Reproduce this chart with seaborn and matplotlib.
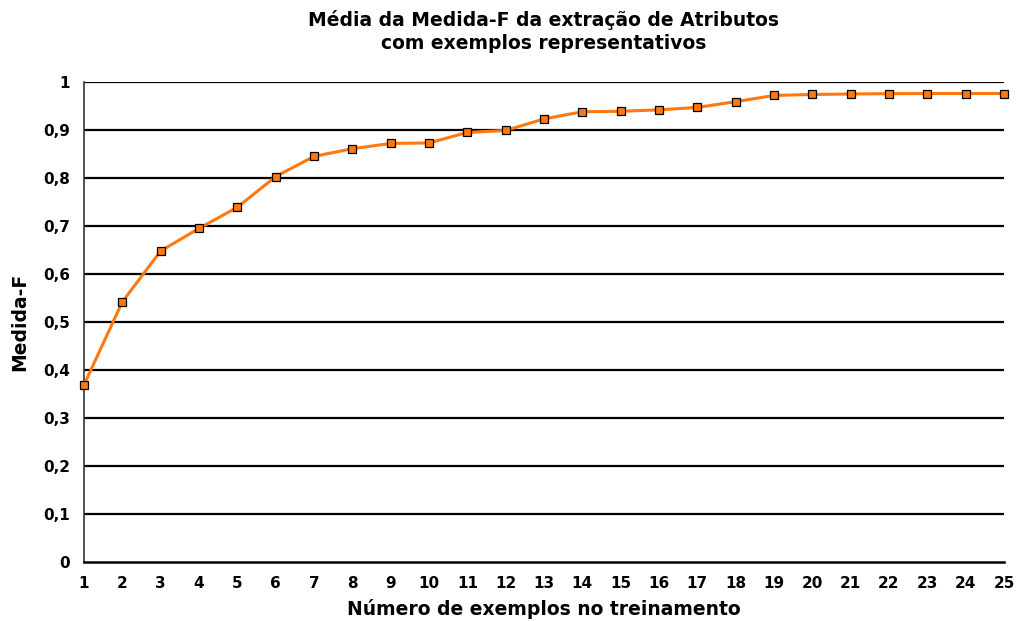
import matplotlib.pyplot as plt
import matplotlib.ticker as mticker
import seaborn as sns
import pandas as pd

# Número de exemplos no treinamento vs Medida-F média
exemplos = list(range(1, 26))
medida_f = [0.369, 0.542, 0.648, 0.695, 0.739, 0.803, 0.845, 0.861, 0.872, 0.873,
            0.895, 0.899, 0.923, 0.938, 0.939, 0.942, 0.947, 0.959, 0.972, 0.974,
            0.975, 0.9757, 0.976, 0.976, 0.976]
y_ticks = [0, 0.1, 0.2, 0.3, 0.4, 0.5, 0.6, 0.7, 0.8, 0.9, 1]

df = pd.DataFrame({"exemplos": exemplos, "medida_f": medida_f})

sns.set_style("white")
plt.rcParams['font.family'] = ['DejaVu Sans']
plt.rcParams['font.weight'] = 'bold'
plt.rcParams['text.color'] = 'black'
plt.rcParams['axes.labelcolor'] = 'black'

fig = plt.figure(figsize=(10.2, 6.21), dpi=100)
ax = fig.add_axes([84 / 1020, 1 - 562 / 621, 920 / 1020, 480 / 621])

for yv in y_ticks[1:]:
    ax.axhline(yv, color='black', lw=1.6, zorder=1)

sns.lineplot(data=df, x="exemplos", y="medida_f", ax=ax, color='#ff7810', lw=2.2,
             marker='s', markersize=5.5, markerfacecolor='#ff7810',
             markeredgecolor='black', markeredgewidth=0.9, zorder=3, clip_on=False)

ax.set_xlim(1, 25)
ax.set_ylim(0, 1)
ax.set_xticks(exemplos)
ax.set_yticks(y_ticks)
ax.yaxis.set_major_formatter(mticker.FuncFormatter(
    lambda v, p: ('%g' % round(v, 1)).replace('.', ',')))
ax.tick_params(axis='both', labelsize=11, colors='black', length=5, width=1, direction='out')
ax.tick_params(axis='y', length=4, pad=6)
ax.tick_params(axis='x', length=8, pad=2)
for lab in ax.get_xticklabels() + ax.get_yticklabels():
    lab.set_fontweight('bold')

sns.despine(ax=ax, top=True, right=True)
ax.spines['left'].set_color('#333333')
ax.spines['bottom'].set_color('black')
ax.spines['left'].set_linewidth(1.2)
ax.spines['bottom'].set_linewidth(1.8)

ax.set_xlabel("Número de exemplos no treinamento", fontsize=13.5, fontweight='bold',
              labelpad=6, color='black')
ax.set_ylabel("Medida-F", fontsize=13.5, fontweight='bold', labelpad=10, color='black')
ax.set_title("Média da Medida-F da extração de Atributos\ncom exemplos representativos",
             fontsize=13.5, fontweight='bold', pad=24, linespacing=1.25, color='black')

fig.savefig("out.png", dpi=100)
